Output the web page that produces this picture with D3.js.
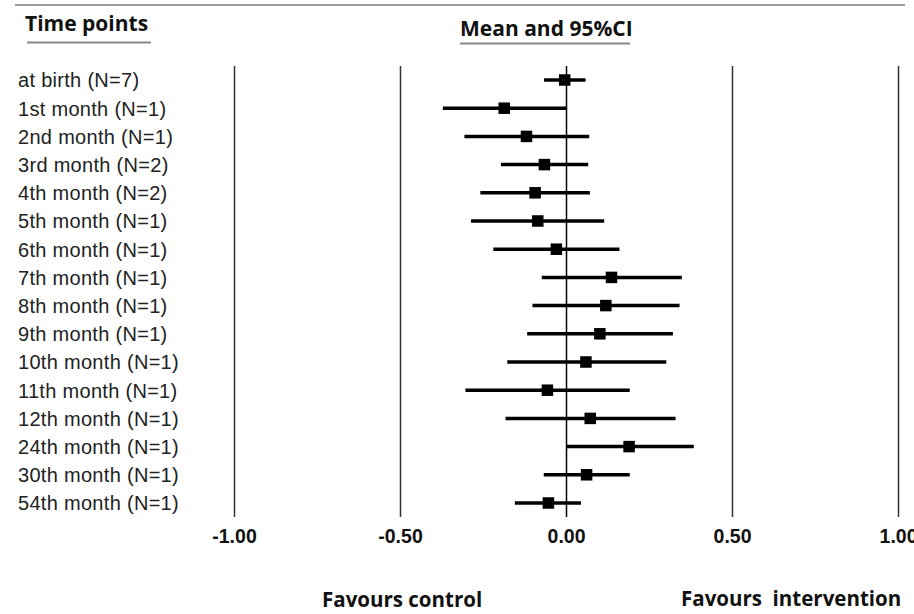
<!DOCTYPE html>
<html>
<head>
<meta charset="utf-8">
<script src="https://cdn.jsdelivr.net/npm/d3@7"></script>
<style>
    body { margin: 0; background: #fff; }
    .row-label { font-family: "Liberation Sans", Arial, sans-serif; font-size: 20px; letter-spacing: 0.3px; fill: #222; }
    .tick text { font-family: "Liberation Sans", Arial, sans-serif; font-size: 19.5px; font-weight: bold; fill: #111; }
    .head { font-family: "Open Sans", sans-serif; font-size: 21px; font-weight: bold; fill: #111; white-space: pre; }
    .foot { font-family: "Open Sans", sans-serif; font-size: 20.5px; font-weight: bold; fill: #111; white-space: pre; }
</style>
</head>
<body>
<div id="my-svg"></div>
<script>
// time points (rows, top to bottom)
var timePoints = ["at birth (N=7)", "1st month (N=1)", "2nd month (N=1)", "3rd month (N=2)",
    "4th month (N=2)", "5th month (N=1)", "6th month (N=1)", "7th month (N=1)",
    "8th month (N=1)", "9th month (N=1)", "10th month (N=1)", "11th month (N=1)",
    "12th month (N=1)", "24th month (N=1)", "30th month (N=1)", "54th month (N=1)"];

// mean and 95% CI
var means = [-0.004, -0.186, -0.119, -0.065, -0.093, -0.085, -0.029, 0.137,
    0.120, 0.102, 0.060, -0.056, 0.073, 0.190, 0.062, -0.053];
var lower = [-0.066, -0.371, -0.306, -0.196, -0.258, -0.286, -0.219, -0.073,
    -0.101, -0.117, -0.177, -0.303, -0.182, 0.000, -0.067, -0.154];
var upper = [0.059, 0.000, 0.070, 0.067, 0.072, 0.115, 0.161, 0.349,
    0.342, 0.322, 0.302, 0.192, 0.330, 0.385, 0.192, 0.045];

var tickValues = [-1, -0.5, 0, 0.5, 1];

var width = 914, height = 614;
var svg, xScale, yScale;

function createBaseGraph() {
    svg = d3.select("#my-svg")
        .append("svg")
        .attr("width", width)
        .attr("height", height);
}

function initScales() {
    xScale = d3.scaleLinear()
        .domain([-1, 1])
        .range([234, 898]);
    yScale = d3.scalePoint()
        .domain(timePoints)
        .range([80, 503]);
}

function drawHeader() {
    // rule along the top
    svg.append("line")
        .attr("x1", 15).attr("x2", 905)
        .attr("y1", 5).attr("y2", 5)
        .attr("stroke", "#777")
        .attr("stroke-width", 1.5);

    svg.append("text").attr("class", "head")
        .attr("x", 25).attr("y", 31)
        .text("Time points");
    svg.append("line")
        .attr("x1", 27).attr("x2", 151)
        .attr("y1", 42.5).attr("y2", 42.5)
        .attr("stroke", "#888").attr("stroke-width", 2);

    svg.append("text").attr("class", "head")
        .attr("x", 460).attr("y", 36)
        .text("Mean and 95%CI");
    svg.append("line")
        .attr("x1", 460).attr("x2", 630)
        .attr("y1", 43.5).attr("y2", 43.5)
        .attr("stroke", "#888").attr("stroke-width", 2);

    svg.append("text").attr("class", "foot")
        .attr("x", 322).attr("y", 607)
        .text("Favours control");
    svg.append("text").attr("class", "foot")
        .attr("x", 681).attr("y", 606)
        .text("Favours  intervention");
}

function drawAxis() {
    // vertical reference lines come from the axis ticks
    var axis = svg.append("g")
        .attr("transform", "translate(0,517)")
        .call(d3.axisBottom(xScale)
            .tickValues(tickValues)
            .tickSizeInner(-451)
            .tickSizeOuter(0)
            .tickPadding(12)
            .tickFormat(function (d) { return d.toFixed(2); }));
    axis.select(".domain").remove();
    axis.selectAll(".tick line")
        .attr("stroke", function (d) { return d === 0 ? "#000" : "#333"; })
        .attr("stroke-width", 1.5);
}

function drawLabels() {
    svg.append("g")
        .selectAll("text")
        .data(timePoints)
        .join("text")
        .attr("class", "row-label")
        .attr("x", 18)
        .attr("y", function (d) { return yScale(d); })
        .attr("dy", "0.37em")
        .text(function (d) { return d; });
}

function drawIntervals() {
    var rows = timePoints.map(function (t, i) {
        return { label: t, mean: means[i], lo: lower[i], hi: upper[i] };
    });

    var g = svg.append("g");
    g.selectAll("line.ci")
        .data(rows)
        .join("line")
        .attr("class", "ci")
        .attr("x1", function (d) { return xScale(d.lo); })
        .attr("x2", function (d) { return xScale(d.hi); })
        .attr("y1", function (d) { return yScale(d.label); })
        .attr("y2", function (d) { return yScale(d.label); })
        .attr("stroke", "#000")
        .attr("stroke-width", 3.5);

    var size = 11.5;
    g.selectAll("rect.mean")
        .data(rows)
        .join("rect")
        .attr("class", "mean")
        .attr("x", function (d) { return xScale(d.mean) - size / 2; })
        .attr("y", function (d) { return yScale(d.label) - size / 2; })
        .attr("width", size)
        .attr("height", size)
        .attr("fill", "#000");
}

createBaseGraph();
initScales();
drawHeader();
drawAxis();
drawLabels();
drawIntervals();
</script>
</body>
</html>
